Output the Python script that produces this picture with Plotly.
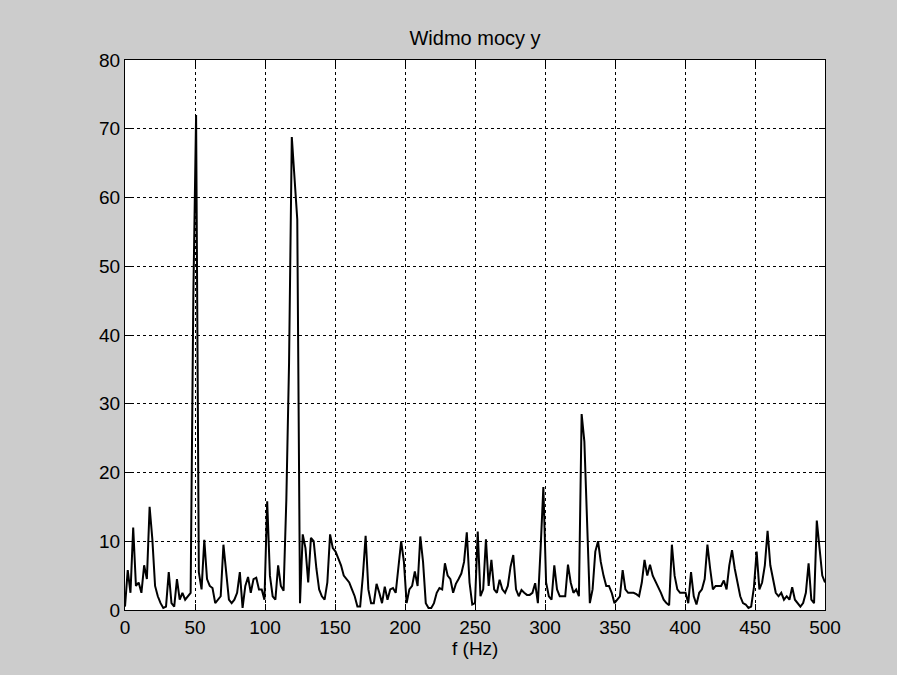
import numpy as np
import plotly.graph_objects as go

# FFT setup: 512-point transform at 1000 Hz sampling, one-sided spectrum
fs = 1000
nfft = 512
freq = np.arange(nfft // 2 + 1) * fs / nfft

# Power spectral density Pyy, one value per frequency bin (257 bins)
pyy = [
    0.5, 5.8, 2.5, 12, 3.5, 4, 2.5, 6.5, 4.5, 15,
    10.3, 3.5, 2, 1, 0.3, 0.5, 5.5, 1, 0.5, 4.5,
    1.5, 2.5, 1.5, 2, 2.5, 46, 72, 5.5, 3, 10.2,
    4.5, 3.5, 3.2, 1, 1.5, 2, 9.5, 5, 1.5, 1,
    1.5, 2.5, 5.5, 0.3, 3.5, 4.8, 2.5, 4.5, 4.7, 3,
    3, 1.5, 15.8, 5, 2, 1.5, 6.5, 3.5, 2.8, 16,
    36, 68.8, 62.5, 56.8, 1, 11, 9, 4, 10.5, 10,
    6, 3, 2, 1.5, 4, 11, 9, 8.5, 7.5, 6.5,
    5, 4.5, 4, 3, 2, 0.5, 0.5, 5, 10.8, 3,
    1, 1, 3.8, 2.5, 1, 3.4, 1.5, 3, 3.2, 2.5,
    6.3, 10, 7, 1, 3, 3.5, 5.6, 3.5, 10.7, 7,
    1, 0.3, 0.3, 1, 2.5, 3.2, 3, 6.8, 5, 4.5,
    2.5, 3.8, 4.5, 5.3, 7, 11.3, 4, 0.8, 1, 11.4,
    2, 3, 10.3, 3.5, 7.3, 3, 2.5, 4.4, 3, 2.5,
    3.5, 6.3, 8, 3, 2, 2.9, 2.5, 2.2, 2.2, 2.5,
    3.9, 1, 9, 17.9, 4, 2, 1.5, 6.5, 3, 2,
    2, 2, 6.6, 4, 2.5, 3, 2, 28.5, 24.5, 14,
    1, 3, 8.5, 10, 7, 5, 3.5, 3.5, 2.5, 1,
    1.5, 2, 5.8, 3, 2.5, 2.5, 2.5, 2.3, 2, 4,
    7.3, 5, 6.6, 5, 4.2, 3.5, 2.5, 1.5, 1, 0.7,
    9.5, 5, 3, 2.5, 2.5, 2.5, 1, 5.5, 2, 0.8,
    2.5, 3, 4.5, 9.5, 6, 3, 3.5, 3.5, 3.5, 4.3,
    3, 6.5, 8.7, 6, 4, 2, 1, 0.8, 0.3, 0.5,
    3.3, 8.5, 3, 4, 6.5, 11.5, 6.5, 4.5, 2.5, 2,
    2.5, 1.5, 2, 1.5, 3.3, 1.5, 1, 0.5, 1, 2.5,
    6.8, 1.5, 1, 13, 9, 5, 4,
]

x_ticks = list(range(0, 501, 50))
y_ticks = list(range(0, 81, 10))

title_text = "Widmo mocy y"
xlabel_text = "f (Hz)"

font_family = "Liberation Sans, Arial, sans-serif"
text_size = 19

fig = go.Figure()
fig.add_trace(go.Scatter(
    x=freq, y=pyy, mode="lines",
    line=dict(color="black", width=2),
    showlegend=False, hoverinfo="skip",
))

axis_common = dict(
    showline=True, linecolor="black", linewidth=1, mirror="ticks",
    ticks="inside", ticklen=6, tickcolor="black", tickwidth=1,
    showgrid=True, gridcolor="black", gridwidth=1, griddash="3px,3px",
    zeroline=False,
    tickfont=dict(family=font_family, size=text_size, color="black"),
)

fig.update_xaxes(range=[0, 500], tickvals=x_ticks, **axis_common)
fig.update_yaxes(range=[0, 80], tickvals=y_ticks, **axis_common)

fig.update_layout(
    width=897, height=675,
    margin=dict(l=125, r=72, t=60, b=65),
    paper_bgcolor="#cccccc", plot_bgcolor="white",
    font=dict(family=font_family, size=text_size, color="black"),
    title=dict(text=title_text, x=0.5, xref="paper",
               y=1 - 38 / 675, yref="container", yanchor="middle",
               font=dict(family=font_family, size=text_size + 1, color="black")),
    annotations=[dict(
        text=xlabel_text, xref="paper", yref="paper", x=0.5, y=0,
        yshift=-38, yanchor="middle", showarrow=False,
        font=dict(family=font_family, size=text_size, color="black"),
    )],
)

fig.write_html("out.html")
